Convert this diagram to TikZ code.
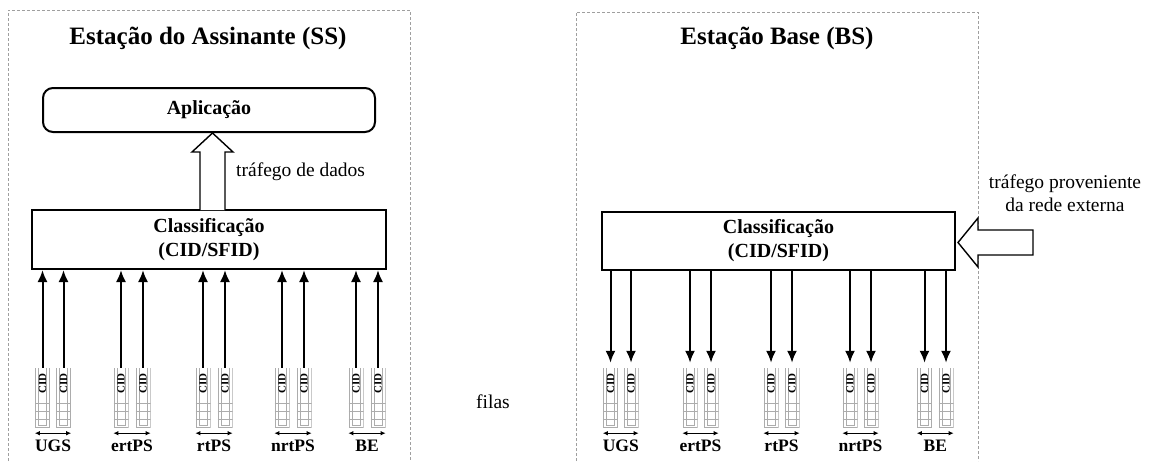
\documentclass[tikz,border=0pt]{standalone}
\usepackage{fontspec}
\setmainfont{Liberation Serif}
\usetikzlibrary{arrows.meta,calc}
\begin{document}
\begin{tikzpicture}[x=1pt,y=-1pt,
  frame/.style={draw=gray!75, line width=1pt, dash pattern=on 3pt off 2pt},
  title/.style={font=\fontsize{25}{30}\selectfont\bfseries},
  box/.style={draw, line width=2pt, fill=white, inner sep=0pt, align=center, font=\fontsize{20}{24}\selectfont\bfseries},
  hollow/.style={draw, line width=1.4pt, fill=white, line join=miter},
  plain/.style={font=\fontsize{19.5}{23}\selectfont, inner sep=0pt, align=center},
  queue/.style={rectangle, minimum width=15pt, minimum height=60pt, inner sep=0pt,
    path picture={
      \coordinate (pb) at (path picture bounding box.south west);
      \draw[gray!65, line width=1pt] ([shift={(0.5pt,60pt)}]pb) -- ([shift={(0.5pt,0.5pt)}]pb) -- ([shift={(14.5pt,0.5pt)}]pb) -- ([shift={(14.5pt,60pt)}]pb);
      \draw[gray!65, line width=0.9pt] ([shift={(3.5pt,60pt)}]pb) -- ([shift={(3.5pt,2.5pt)}]pb) -- ([shift={(11.5pt,2.5pt)}]pb) -- ([shift={(11.5pt,60pt)}]pb);
      \foreach \h in {9,17,25}{\draw[gray!65, line width=0.9pt] ([shift={(0pt,\h pt)}]pb) -- ([shift={(15pt,\h pt)}]pb);}
    }},
  cid/.style={rotate=90, inner sep=0pt, font=\fontsize{11}{12}\selectfont\bfseries},
  conn/.style={line width=2pt, -{Latex[length=12pt,width=10pt]}},
  dbl/.style={line width=1pt, {Latex[length=5pt,width=4.5pt]}-{Latex[length=5pt,width=4.5pt]}},
  qlabel/.style={inner sep=0pt, font=\fontsize{17.5}{20}\selectfont\bfseries}
]
\useasboundingbox (0,0) rectangle (1152,461);

% ---------------- left station ----------------
\draw[frame] (8,461) -- (8,10) -- (410,10) -- (410,461);
\node[title] (titleL) at (208,38) {Estação do Assinante (SS)};
\node[box, rounded corners=10pt, minimum width=332pt, minimum height=44pt] (app) at (209,110) {Aplicação};
\node[box, minimum width=354pt, minimum height=59pt] (clsL) at (209,239.5) {Classificação\\(CID/SFID)};
\draw[hollow] (200,210) -- (200,152) -- (192,152) -- (212.5,133) -- (233,152) -- (225,152) -- (225,210);
\node[plain, anchor=west] (dados) at (236,172) {tráfego de dados};

\foreach \g/\xa/\xb/\lab in {1/42.5/63.5/UGS, 2/121/143/ertPS, 3/203/225/rtPS, 4/282/304/nrtPS, 5/356/378/BE}{
  \node[queue] (lqa\g) at (\xa,398) {};
  \node[queue] (lqb\g) at (\xb,398) {};
  \node[cid] (lca\g) at ([yshift=-16pt]lqa\g.north) {CID};
  \node[cid] (lcb\g) at ([yshift=-16pt]lqb\g.north) {CID};
  \draw[conn] (lqa\g.north) -- (lqa\g.north |- clsL.south);
  \draw[conn] (lqb\g.north) -- (lqb\g.north |- clsL.south);
  \draw[dbl] ([yshift=-5pt]lqa\g.south west) -- ([yshift=-5pt]lqb\g.south east);
  \node[qlabel] (ll\g) at ({(\xa+\xb)/2},446) {\lab};
}

\node[plain] (filas) at (493,402) {filas};

% ---------------- right station ----------------
\draw[frame] (576,461) -- (576,12) -- (978,12) -- (978,461);
\node[title] (titleR) at (777,38) {Estação Base (BS)};
\node[box, minimum width=353pt, minimum height=58pt] (clsR) at (778.5,241) {Classificação\\(CID/SFID)};
\draw[hollow] (958,242.5) -- (978,218) -- (978,230) -- (1033,230) -- (1033,255) -- (978,255) -- (978,267) -- cycle;
\node[plain] (ext) at (1065,193) {tráfego proveniente\\da rede externa};

\foreach \g/\xa/\xb/\lab in {1/610.5/631/UGS, 2/690/711/ertPS, 3/771/792/rtPS, 4/850/871/nrtPS, 5/924.5/946/BE}{
  \node[queue] (rqa\g) at (\xa,398) {};
  \node[queue] (rqb\g) at (\xb,398) {};
  \node[cid] (rca\g) at ([yshift=-16pt]rqa\g.north) {CID};
  \node[cid] (rcb\g) at ([yshift=-16pt]rqb\g.north) {CID};
  \draw[conn] (rqa\g.north |- clsR.south) -- ([yshift=5pt]rqa\g.north);
  \draw[conn] (rqb\g.north |- clsR.south) -- ([yshift=5pt]rqb\g.north);
  \draw[dbl] ([yshift=-5pt]rqa\g.south west) -- ([yshift=-5pt]rqb\g.south east);
  \node[qlabel] (rl\g) at ({(\xa+\xb)/2},446) {\lab};
}
\end{tikzpicture}
\end{document}
